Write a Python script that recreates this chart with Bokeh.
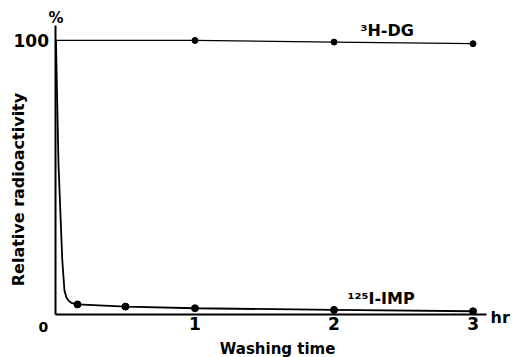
import math
from bokeh.plotting import figure
from bokeh.models import Range1d, FixedTicker, Label
from bokeh.embed import file_html
from bokeh.resources import INLINE

# ---- data ----
dg_curve_x = [0, 1, 2, 3]
dg_curve_y = [100, 100, 99.4, 98.8]
dg_dot_x = [1, 2, 3]
dg_dot_y = [100, 99.4, 98.8]

imp_curve_x = [0, 0.018, 0.045, 0.061, 0.075, 0.09, 0.11, 0.155, 0.5, 1, 2, 3]
imp_curve_y = [100, 55, 20, 8.6, 6.0, 4.9, 4.1, 3.5, 2.7, 2.1, 1.5, 1.0]
imp_dot_x = [0.155, 0.5, 1, 2, 3]
imp_dot_y = [3.5, 2.7, 2.1, 1.5, 1.0]

x_ticks = [1, 2, 3]
y_ticks = [100]

FONT = "DejaVu Sans"

p = figure(width=513, height=357, output_backend="svg", toolbar_location=None,
           x_range=Range1d(-0.399, 3.291), y_range=Range1d(-15.9, 114.6),
           min_border=0)
p.outline_line_color = None
p.grid.visible = False
p.background_fill_color = "white"

# axes, drawn at the data origin
p.xaxis.fixed_location = 0
p.yaxis.fixed_location = 0
p.xaxis.bounds = (0, 3.1)
p.yaxis.bounds = (0, 105.5)
p.xaxis.ticker = FixedTicker(ticks=x_ticks)
p.yaxis.ticker = FixedTicker(ticks=y_ticks)
for ax in (p.xaxis, p.yaxis):
    ax.axis_line_width = 2
    ax.axis_line_color = "black"
    ax.major_tick_line_color = None
    ax.major_tick_out = 0
    ax.major_tick_in = 0
    ax.minor_tick_line_color = None
    ax.minor_tick_out = 0
    ax.major_label_text_font = FONT
    ax.major_label_text_font_style = "bold"
    ax.major_label_text_font_size = "17px"
    ax.major_label_text_color = "black"
p.xaxis.major_label_standoff = 3
p.yaxis.major_label_standoff = 7

# series
p.line(dg_curve_x, dg_curve_y, line_color="black", line_width=1.3)
p.scatter(dg_dot_x, dg_dot_y, size=6, color="black")
p.line(imp_curve_x, imp_curve_y, line_color="black", line_width=1.8)
p.scatter(imp_dot_x, imp_dot_y, size=7, color="black")

# annotations (data units)
def lab(x, y, text, size="16px", align="left", angle=0.0, baseline="alphabetic"):
    p.add_layout(Label(x=x, y=y, text=text, text_font=FONT, angle=angle,
                       text_font_style="bold", text_font_size=size,
                       text_baseline=baseline, text_align=align,
                       text_color="black"))

lab(2.19, 103.7, "³H-DG")
lab(2.097, 5.7, "¹²⁵I-IMP")
lab(3.126, -1.2, "hr")
lab(0.0, 108.1, "%", size="15px", align="center")
lab(-0.09, -4.9, "0", size="14px", align="center")
lab(1.594, -12.8, "Washing time", size="15px", align="center")
lab(-0.27, 45.5, "Relative radioactivity", align="center",
    angle=math.pi / 2, baseline="middle")

open("out.html", "w").write(file_html(p, INLINE))
